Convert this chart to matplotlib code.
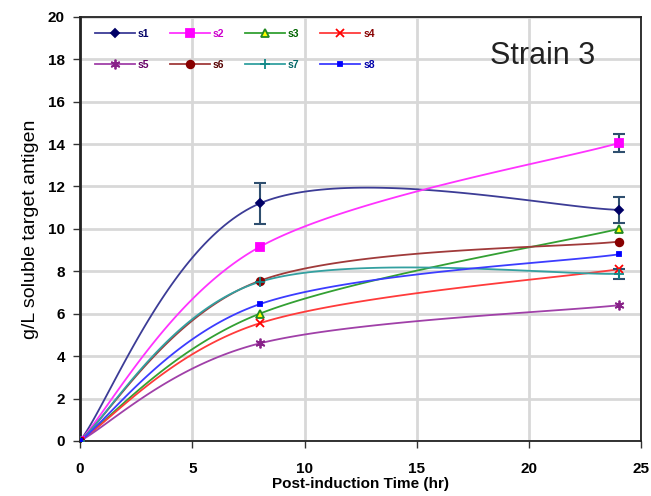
import numpy as np
import matplotlib
matplotlib.use("Agg")
import matplotlib.pyplot as plt

times = [0, 8, 24]
labels = ["s1", "s2", "s3", "s4", "s5", "s6", "s7", "s8"]
s1 = [0, 11.2, 10.9]
s2 = [0, 9.15, 14.05]
s3 = [0, 6.0, 10.0]
s4 = [0, 5.55, 8.1]
s5 = [0, 4.6, 6.4]
s6 = [0, 7.55, 9.4]
s7 = [0, 7.5, 7.88]
s8 = [0, 6.45, 8.8]
s1_err = [0, 0.95, 0.6]
s2_err = [0, 0, 0.42]
s7_err = [0, 0, 0.22]

series = [s1, s2, s3, s4, s5, s6, s7, s8]
errs = {0: s1_err, 1: s2_err, 6: s7_err}
line_colors = ["#3c3c96", "#ff33ff", "#33a033", "#ff3b3b", "#a040a8", "#a03a3a", "#33a0a0", "#3c3cff"]
mk_colors = ["#000066", "#ff00ff", "#228822", "#ff0000", "#882288", "#880000", "#118888", "#0000ff"]
txt_colors = ["#000066", "#cc00cc", "#006600", "#880000", "#660066", "#550000", "#006666", "#0000aa"]
markers = ["D", "s", "^", "x", (6, 2, 0), "o", "+", "s"]
msizes = [4.5, 6, 5.5, 6, 7, 5.5, 7, 3.5]
mfaces = ["#000066", "#ff00ff", "#ffff00", "#ff0000", "#882288", "#880000", "#118888", "#0000ff"]


def excel_smooth(x, y, n=60):
    x = np.asarray(x, float)
    y = np.asarray(y, float)
    P = np.column_stack([x, y])
    out = [P[0:1]]
    m = len(P)
    for i in range(m - 1):
        p0 = P[max(i - 1, 0)]
        p1 = P[i]
        p2 = P[i + 1]
        p3 = P[min(i + 2, m - 1)]
        c1 = p1 + (p2 - p0) / 6.0
        c2 = p2 - (p3 - p1) / 6.0
        t = np.linspace(0, 1, n)[1:, None]
        b = ((1 - t) ** 3) * p1 + 3 * ((1 - t) ** 2) * t * c1 + 3 * (1 - t) * t ** 2 * c2 + t ** 3 * p2
        out.append(b)
    r = np.vstack(out)
    return r[:, 0], r[:, 1]


fig = plt.figure(figsize=(6.51, 4.96), dpi=100)
ax = fig.add_axes([0.123, 0.111, 0.862, 0.855])

handles = []
for i, (ys, lab) in enumerate(zip(series, labels)):
    sx, sy = excel_smooth(times, ys)
    ax.plot(sx, sy, color=line_colors[i], lw=1.3, zorder=3)
    ax.plot(times, ys, linestyle="none", marker=markers[i], ms=msizes[i],
            color=mk_colors[i], mfc=mfaces[i], mec=mk_colors[i], mew=1.3, zorder=4)
    h, = ax.plot([], [], color=line_colors[i], lw=1.3, marker=markers[i], ms=msizes[i],
                 mfc=mfaces[i], mec=mk_colors[i], mew=1.3, label=lab)
    handles.append(h)
    if i in errs:
        e = errs[i]
        tx = [t for t, v in zip(times, e) if v > 0]
        ty = [y for y, v in zip(ys, e) if v > 0]
        te = [v for v in e if v > 0]
        ax.errorbar(tx, ty, yerr=te, fmt="none", ecolor="#2f4f6f", elinewidth=1.5,
                    capsize=4, capthick=1.5, zorder=3)

ax.set_xlim(0, 25)
ax.set_ylim(0, 20)
ax.set_xticks(range(0, 26, 5))
ax.set_yticks(range(0, 21, 2))
ax.grid(True, color="#d8d8d8", lw=2)
ax.set_axisbelow(True)
for sp in ax.spines.values():
    sp.set_color("#222222")
    sp.set_linewidth(1.3)
ax.spines["left"].set_linewidth(2)
ax.tick_params(axis="both", direction="out", length=5, width=1, color="#333333",
               labelsize=11)
for lab in ax.get_xticklabels() + ax.get_yticklabels():
    lab.set_fontweight("bold")
    lab.set_family("Liberation Sans")
ax.tick_params(axis="x", pad=10)
ax.tick_params(axis="y", pad=6)

ax.set_xlabel("Post-induction Time (hr)", fontsize=11, fontweight="bold",
              family="Liberation Sans", labelpad=1)
ax.set_ylabel("g/L soluble target antigen", fontsize=14, family="Liberation Sans",
              labelpad=6)

ax.text(0.824, 0.908, "Strain 3", transform=ax.transAxes, fontsize=22,
        family="Liberation Sans", ha="center", va="center", color="#222222")

order = [0, 4, 1, 5, 2, 6, 3, 7]
leg = ax.legend([handles[k] for k in order], [labels[k] for k in order],
                loc="upper left", bbox_to_anchor=(0.027, 0.972), ncol=4, frameon=False,
                handlelength=3.8, columnspacing=2.0, handletextpad=0.3,
                borderpad=0, borderaxespad=0,
                prop={"family": "Liberation Sans", "weight": "bold", "size": 7.5},
                labelspacing=2.0)
for t, k in zip(leg.get_texts(), order):
    t.set_color(txt_colors[k])

fig.savefig("out.png", dpi=100)
